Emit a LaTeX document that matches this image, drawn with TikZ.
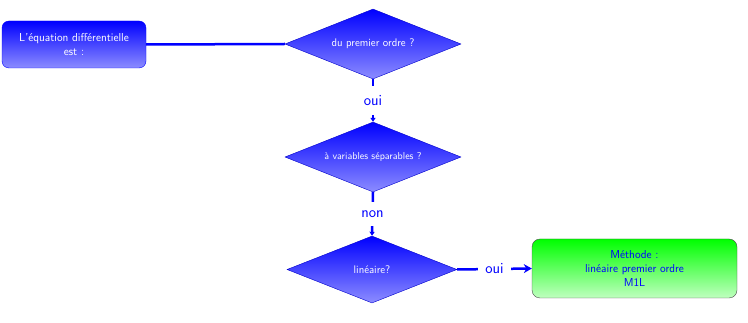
\documentclass[tikz,border=0pt]{standalone}
\usetikzlibrary{shapes.geometric,arrows.meta}
\begin{document}
\begin{tikzpicture}[x=1pt,y=-1pt,font=\sffamily,
  startbox/.style={rounded corners=7pt,draw=blue,top color=blue,bottom color=blue!45!white,text=white,minimum width=144pt,minimum height=47pt,align=center,font=\sffamily\fontsize{11.5}{14}\selectfont,inner sep=2pt},
  decision/.style={diamond,aspect=2.5,draw=blue!80!black,top color=blue,bottom color=blue!45!white,text=white,minimum width=176pt,minimum height=70pt,inner sep=0pt,font=\sffamily\fontsize{11}{13}\selectfont},
  methodbox/.style={rounded corners=8pt,draw=black!70,top color=green,bottom color=green!25!white,text=blue,minimum width=205pt,minimum height=59pt,align=center,font=\sffamily\fontsize{11.5}{14}\selectfont},
  conn/.style={draw=blue,line width=2.5pt},
  lab/.style={fill=white,text=blue,font=\sffamily\fontsize{15.5}{18}\selectfont,inner xsep=3pt,inner ysep=9pt},
  vtip/.style={-{Triangle[length=4pt,width=5pt]}},
  htip/.style={-{Stealth[length=8pt,width=9pt]}}
]
\useasboundingbox (0,0) rectangle (748,323);
\node[startbox] (s) at (74,44.5) {L'équation différentielle\\est :};
\node[decision] (d1) at (373,44) {du premier ordre ?};
\node[decision,font=\sffamily\fontsize{10}{12}\selectfont] (d2) at (373,157) {à variables séparables ?};
\node[decision,minimum width=170pt,minimum height=67pt] (d3) at (372,269.5) {linéaire?};
\node[methodbox] (m) at (634.5,268.5) {Méthode :\\linéaire premier ordre\\M1L};
\draw[conn] (s.east) -- (d1.west);
\draw[conn,vtip] (d1.south) -- node[lab]{oui} (d2.north);
\draw[conn,vtip] (d2.south) -- node[lab]{non} (d3.north);
\draw[conn,htip] (d3.east) -- node[lab,inner xsep=7pt,inner ysep=3pt]{oui} (m.west);
\end{tikzpicture}
\end{document}
